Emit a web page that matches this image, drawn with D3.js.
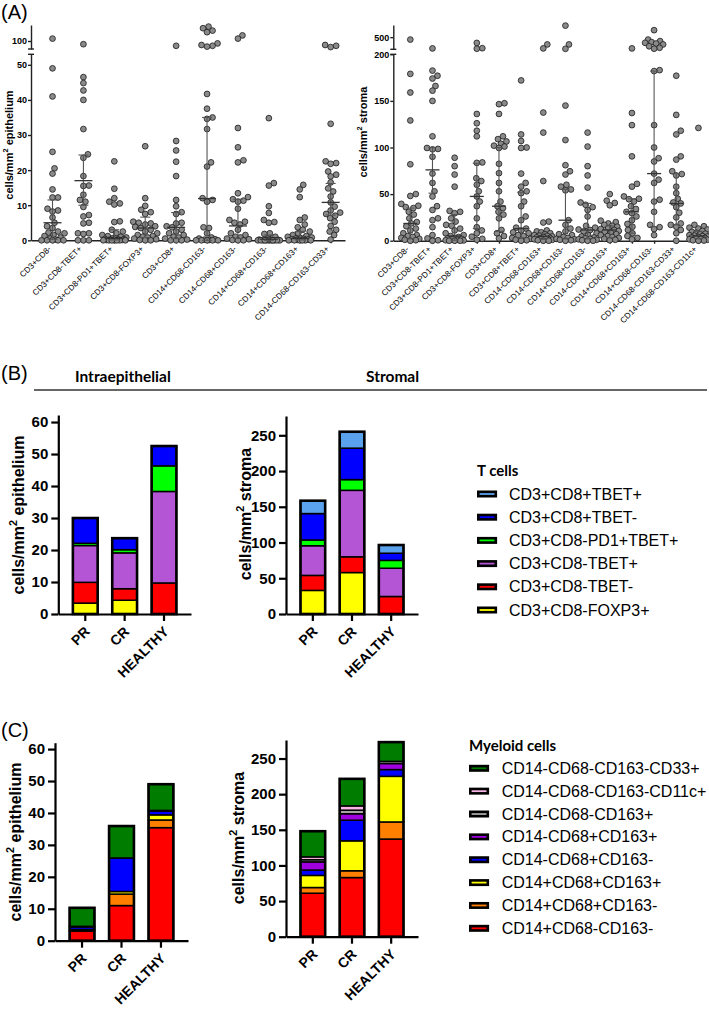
<!DOCTYPE html>
<html>
<head>
<meta charset="utf-8">
<script src="https://cdn.jsdelivr.net/npm/d3@7"></script>
<style>
  body { margin: 0; background: #fff; }
  text { font-family: Arial, "Liberation Sans", sans-serif; fill: #000; }
  .hdr { font-family: Lato, "Open Sans", sans-serif; font-weight: bold; }
</style>
</head>
<body>
<svg id="fig" width="709" height="1012"></svg>
<script>
// ---------- Panel A data ----------
const epiCats = ["CD3+CD8-", "CD3+CD8-TBET+", "CD3+CD8-PD1+TBET+", "CD3+CD8-FOXP3+", "CD3+CD8+",
  "CD14+CD68-CD163-", "CD14-CD68+CD163-", "CD14+CD68+CD163-", "CD14+CD68+CD163+", "CD14-CD68-CD163-CD33+"];
const epiDots = [
  [101.5, 49, 41, 25.2, 20.5, 19, 14.5, 12.2, 12.2, 9, 8.5, 8.2, 6.5, 5, 4, 3.5, 2.5, 2.2, 2, 1.5, 1.2, 0.8, 0.5, 0.2, 0, 0, 0, 0, 0],
  [98, 46.5, 44.8, 42.7, 40, 31.7, 24.5, 23.5, 18.3, 15.6, 15.5, 13, 11.5, 11, 9.5, 7.2, 6.8, 5, 4.8, 2, 2, 1.8, 0, 0, 0],
  [22.5, 14.7, 12, 11, 10.5, 10.2, 5.4, 5.2, 3, 2.5, 2, 1.5, 1.2, 1, 0.8, 0.6, 0.5, 0.4, 0.3, 0.2, 0.2, 0.1, 0.1, 0, 0, 0, 0, 0, 0, 0],
  [26.8, 12, 9.8, 8.7, 8, 7.5, 5.3, 5, 4.8, 4.5, 4, 3.8, 3.5, 3, 2.5, 2, 1.5, 1.2, 1, 0.8, 0.5, 0.3, 0.1, 0, 0],
  [97, 28.3, 25.6, 22.4, 18.3, 11.5, 9.7, 8, 7.5, 5, 4.8, 4, 3.7, 3, 2.5, 2, 1.5, 1, 0.8, 0.5, 0.2, 0, 0, 0],
  [109, 108, 106.5, 105.5, 98.5, 97, 96.5, 97.5, 41.7, 37.5, 35, 34.6, 31.7, 22.2, 21, 12, 11.5, 11, 3.7, 3.5, 2, 0.8, 0.5, 0.3, 0.2, 0.1, 0, 0, 0, 0, 0],
  [103.5, 101.5, 32, 26.5, 22.8, 22.2, 13.4, 12.3, 11.7, 11.3, 11, 9, 5.8, 5.3, 5, 4.5, 3, 2, 1.5, 1, 0.8, 0.5, 0.3, 0.1, 0, 0],
  [34.8, 16.3, 15.6, 9.7, 7.8, 5.8, 5.2, 5, 2, 1.8, 1, 0.5, 0.3, 0.2, 0.1, 0, 0, 0, 0, 0, 0, 0, 0, 0, 0, 0],
  [15.8, 14.5, 12.3, 6.5, 5.8, 4.5, 3.7, 3, 2.5, 2, 1.5, 1.2, 1, 0.8, 0.6, 0.5, 0.4, 0.3, 0.2, 0.1, 0, 0, 0, 0, 0, 0],
  [97.5, 97, 96.2, 33.2, 22.5, 22, 21.8, 19.6, 18.7, 18.2, 16.5, 14.8, 13.9, 12.5, 10.8, 9.6, 8.5, 7.9, 7.5, 7, 6.3, 5.3, 4.1, 3, 2.5, 1.5, 0.2]
];
const epiMedian = [5, 17, 0.5, 3.5, 3.7, 11.9, 4.1, 0.3, 0.5, 10.8];
const epiQ1 = [0.3, 10, 0.1, 0.8, 0.5, 0, 0.5, 0, 0.1, 7.2];
const epiQ3 = [11.5, 24.3, 3, 6.6, 7.9, 35, 11.7, 1.5, 2.5, 16.2];

const stroCats = ["CD3+CD8-", "CD3+CD8-TBET+", "CD3+CD8-PD1+TBET+", "CD3+CD8-FOXP3+", "CD3+CD8+", "CD3+CD8+TBET+",
  "CD14-CD68-CD163+", "CD14-CD68+CD163-", "CD14+CD68+CD163-", "CD14-CD68+CD163+", "CD14+CD68+CD163+",
  "CD14+CD68-CD163-", "CD14-CD68-CD163-CD33+", "CD14-CD68-CD163-CD11c+"];
const stroDots = [
  [460, 179, 159, 129, 82, 50, 48, 39.5, 37.5, 36, 35, 31, 28, 24, 20, 18.5, 15.5, 13, 11, 8, 6, 5, 4, 3, 2, 1, 0.5, 0],
  [315, 182.5, 177, 174, 166, 161, 150, 112, 99.5, 98.5, 98, 90, 72, 62, 53, 47.5, 37, 33, 24, 22, 14.5, 6, 2.5, 0.5, 0],
  [89, 80, 71, 58, 32, 31, 29.5, 24, 20.5, 17, 16, 13, 11, 8, 6, 5, 4, 3, 2.5, 2, 1.5, 1, 0.5, 0.3, 0, 0, 0],
  [405, 318, 310, 136, 126, 118, 112, 84, 83.5, 67, 64, 60, 53, 47.5, 42, 37, 24, 14.5, 11, 8, 4.3, 2, 1],
  [147.5, 146.5, 136, 112, 109, 106.5, 104, 102, 101, 99.5, 82.5, 72.5, 62, 53, 42, 37, 35, 31, 28, 24, 11.5, 8, 5, 2.5],
  [172, 114, 107, 100, 99.5, 72, 62, 58, 53, 51, 42, 37, 26, 22, 14, 13, 11, 9, 8, 6, 5, 3, 2, 1, 0.5, 0],
  [380, 315, 137.5, 116, 64, 20.5, 19.5, 11, 10, 9, 8, 7, 6, 5.5, 5, 4.5, 4, 3.5, 3, 2.5, 2, 1.5, 1, 0.5, 0, 0],
  [690, 380, 308, 145, 108, 81, 74.5, 71, 60, 58, 55, 54, 22, 17, 13, 10, 7, 6, 4, 3, 2, 1.5, 1, 0.5, 0],
  [116, 101, 80, 70, 57, 41, 38.5, 36, 33, 26, 16, 14, 12, 11.5, 10, 8, 6, 4.5, 3.5, 2.5, 2, 1.5, 1, 0.5, 0, 0],
  [50, 43, 40.5, 38, 21.5, 20, 18.5, 17, 16, 15, 13.5, 12.5, 11.5, 10.5, 9.5, 8.5, 7, 6, 5, 4, 3, 2, 1, 0.5],
  [315, 137, 124, 90.5, 61, 58, 47.5, 45, 44.5, 42, 37, 34, 31, 29.5, 26, 22, 18, 15, 11.5, 8, 5, 3, 1.5],
  [615, 460, 435, 418, 407, 395, 380, 350, 325, 310, 183, 182, 124, 100, 88.5, 85, 72, 65.5, 62, 44, 42, 31, 17, 14.5, 12.5, 6],
  [177, 135, 118, 114, 90.5, 87, 74.5, 71.5, 70, 58, 51, 45, 41, 40, 36, 30, 25, 18.5, 17, 15, 11.5, 8, 0],
  [121, 17, 15.5, 14, 13, 12, 10.5, 9.5, 8.5, 7.5, 7, 6, 5.5, 5, 4.5, 4, 3.5, 3, 2.5, 2, 1.5, 1, 0.5, 0.2, 0]
];
const stroMedian = [18.5, 76, 5, 47.5, 37, 13, 4.5, 22, 11.5, 11.5, 31, 72, 40, 5];
const stroQ1 = [2, 51, 0.5, 13, 10, 3, 1.5, 2, 2, 3, 8, 15, 17, 2];
const stroQ3 = [35, 100, 28, 83, 100, 52, 8, 55, 40, 16, 45, 182, 72, 10];

// ---------- Panels B / C data (stack order bottom -> top) ----------
const groups = ["PR", "CR", "HEALTHY"];

const tSeries = ["CD3+CD8-FOXP3+", "CD3+CD8-TBET-", "CD3+CD8-TBET+", "CD3+CD8-PD1+TBET+", "CD3+CD8+TBET-", "CD3+CD8+TBET+"];
const tColors = ["#ffff00", "#ff0000", "#b455d6", "#00ff00", "#0000ff", "#5aa2ee"];
const tEpi = [[3.4, 4.3, 0], [6.5, 3.6, 9.7], [11.5, 11.2, 28.6], [0.7, 1.0, 8.0], [7.9, 3.6, 6.2], [0, 0, 0]];
const tStroma = [[33, 58, 0], [21, 22, 24.5], [41.5, 93, 39.5], [8, 15, 11], [37, 44, 10], [18, 23, 11.5]];

const mSeries = ["CD14+CD68-CD163-", "CD14+CD68+CD163-", "CD14+CD68+CD163+", "CD14-CD68+CD163-",
  "CD14-CD68+CD163+", "CD14-CD68-CD163+", "CD14-CD68-CD163-CD11c+", "CD14-CD68-CD163-CD33+"];
const mColors = ["#ff0000", "#ff8000", "#ffff00", "#0000ff", "#a000e0", "#a6a6a6", "#f7b4e4", "#007d00"];
const mEpi = [[3.0, 11.0, 35.4], [0.3, 3.6, 2.4], [0.2, 0.8, 1.6], [0.8, 10.5, 1.2], [0.2, 0, 0.2], [0, 0, 0], [0, 0, 0], [5.8, 10, 8.2]];
const mStroma = [[61, 83, 137], [8, 9.5, 24], [17, 42, 64], [7.5, 29, 9.5], [11.5, 9, 8.5], [3, 5, 3], [4, 6, 0], [36, 38, 27]];

const svg = d3.select("#fig");

// y label with superscript 2
function yLabel(x, y, word, size) {
  const t = svg.append("text")
    .attr("transform", `translate(${x},${y}) rotate(-90)`)
    .attr("text-anchor", "middle")
    .attr("font-weight", "bold")
    .attr("font-size", size);
  t.append("tspan").attr("dy", "0.35em").text("cells/mm");
  t.append("tspan").attr("dy", -size * 0.4).attr("font-size", size * 0.68).text("2");
  t.append("tspan").attr("dy", size * 0.4).text(" " + word);
}

// slanted category labels
function slantLabels(g, cats, xPos, yTop, size, bold, dx) {
  g.append("g").selectAll("g")
    .data(cats)
    .enter()
    .append("g")
    .attr("transform", d => `translate(${xPos(d) + dx},${yTop}) rotate(-45)`)
    .append("text")
    .attr("text-anchor", "end")
    .attr("dy", "0.35em")
    .attr("font-size", size)
    .attr("font-weight", bold ? "bold" : "normal")
    .attr("fill", "#111")
    .text(d => d);
}

// simple beeswarm offsets (pixels)
function swarm(ys, r, maxW) {
  const placed = [];
  const xs = new Array(ys.length);
  d3.range(ys.length).sort((a, b) => ys[b] - ys[a]).forEach(i => {
    let best = 0, bestD = -1;
    for (let k = 0; k <= maxW * 4; k++) {
      const off = (k % 2 ? 1 : -1) * Math.ceil(k / 2) * 0.5;
      let dmin = Infinity;
      placed.forEach(p => { dmin = Math.min(dmin, Math.hypot(p[0] - off, p[1] - ys[i])); });
      if (dmin >= 2 * r - 0.3) { best = off; break; }
      if (dmin > bestD) { bestD = dmin; best = off; }
    }
    xs[i] = best;
    placed.push([best, ys[i]]);
  });
  return xs;
}

// ---------- scatter panel with broken y axis ----------
function scatterPanel(o) {
  const g = svg.append("g");
  const yLow = d3.scaleLinear().domain(o.lowDom).range([o.yBase, o.lowTop]);
  const yUp = d3.scaleLinear().domain(o.upDom).range(o.upRange);
  const yv = v => v > o.lowDom[1] ? yUp(v) : yLow(v);
  const x = d3.scalePoint().domain(o.cats).range([o.x0, o.x1]).padding(o.pad).align(o.align);

  // axes
  const axL = g.append("g").attr("transform", `translate(${o.x0},0)`)
    .call(d3.axisLeft(yLow).tickValues(o.lowTicks).tickSize(3).tickSizeOuter(0).tickPadding(1));
  const axU = g.append("g").attr("transform", `translate(${o.x0},0)`)
    .call(d3.axisLeft(yUp).tickValues(o.upTicks).tickSize(3).tickSizeOuter(0).tickPadding(1));
  [axL, axU].forEach(a => {
    a.selectAll("path, line").attr("stroke", "#222").attr("stroke-width", 1.4);
    a.selectAll("text").attr("font-size", 9).attr("font-weight", "bold").attr("fill", "#222");
  });
  // break caps
  [o.lowTop, o.upRange[0]].forEach(yy => {
    g.append("line").attr("x1", o.x0 - 3).attr("x2", o.x0 + 3).attr("y1", yy).attr("y2", yy)
      .attr("stroke", "#222").attr("stroke-width", 1.4);
  });

  const axB = g.append("g").attr("transform", `translate(0,${o.yBase})`)
    .call(d3.axisBottom(x).tickSize(3).tickSizeOuter(0).tickFormat(""));
  axB.selectAll("path, line").attr("stroke", "#222").attr("stroke-width", 1.4);
  slantLabels(g, o.cats, x, o.yBase + 7, 8.2, false, -3);

  // dots
  o.dots.forEach((vals, i) => {
    const ys = vals.map(yv);
    const xs = swarm(ys, 2.9, o.maxW);
    g.append("g").selectAll("circle")
      .data(vals)
      .enter()
      .append("circle")
      .attr("cx", (d, j) => x(o.cats[i]) + xs[j])
      .attr("cy", (d, j) => ys[j])
      .attr("r", 2.9)
      .attr("fill", "#8a8a8a")
      .attr("stroke", "#1a1a1a")
      .attr("stroke-width", 0.8);
  });

  // median + IQR
  o.cats.forEach((c, i) => {
    const cx = x(c);
    const eg = g.append("g").attr("stroke", "#555").attr("stroke-width", 1.1);
    eg.append("line").attr("x1", cx).attr("x2", cx).attr("y1", yv(o.q1[i])).attr("y2", yv(o.q3[i]));
    [o.q1[i], o.q3[i]].forEach(q => {
      eg.append("line").attr("x1", cx - o.capW).attr("x2", cx + o.capW).attr("y1", yv(q)).attr("y2", yv(q));
    });
    eg.append("line").attr("x1", cx - o.medW).attr("x2", cx + o.medW)
      .attr("y1", yv(o.med[i])).attr("y2", yv(o.med[i])).attr("stroke", "#333").attr("stroke-width", 1.3);
  });

  yLabel(o.labelX, o.labelY, o.word, 11);
}

scatterPanel({
  cats: epiCats, dots: epiDots, med: epiMedian, q1: epiQ1, q3: epiQ3,
  x0: 31, x1: 345, pad: 0.58, align: 0.6, yBase: 240.3,
  lowDom: [0, 53], lowTop: 54.3, upDom: [95, 110], upRange: [49, 25],
  lowTicks: [0, 10, 20, 30, 40, 50], upTicks: [100],
  maxW: 12, capW: 5, medW: 9, labelX: 9, labelY: 145, word: "epithelium"
});
scatterPanel({
  cats: stroCats, dots: stroDots, med: stroMedian, q1: stroQ1, q3: stroQ3,
  x0: 393.3, x1: 708, pad: 0.6, align: 0.64, yBase: 240.7,
  lowDom: [0, 200], lowTop: 54.3, upDom: [300, 700], upRange: [49.3, 25],
  lowTicks: [0, 50, 100, 150, 200], upTicks: [500],
  maxW: 9, capW: 4, medW: 7, labelX: 363, labelY: 132, word: "stroma"
});

// ---------- stacked bar panels ----------
function stackPanel(o) {
  const g = svg.append("g");
  const rows = groups.map((grp, gi) => {
    const r = { group: grp };
    o.series.forEach((s, si) => { r[s] = o.values[si][gi]; });
    return r;
  });
  const stacked = d3.stack().keys(o.series)(rows);
  const x = d3.scaleBand().domain(groups).range([o.x0, o.x1])
    .paddingInner(0.37).paddingOuter(0.37).align(0.5);
  const y = d3.scaleLinear().domain([0, o.max]).range([o.yBase, o.yTop]);
  const color = d3.scaleOrdinal().domain(o.series).range(o.colors);

  stacked.forEach(layer => {
    g.append("g").selectAll("rect")
      .data(layer.filter(d => d[1] - d[0] > 0))
      .enter()
      .append("rect")
      .attr("x", d => x(d.data.group))
      .attr("y", d => y(d[1]))
      .attr("width", x.bandwidth())
      .attr("height", d => y(d[0]) - y(d[1]))
      .attr("fill", color(layer.key))
      .attr("stroke", "#000")
      .attr("stroke-width", 1.5);
  });
  // outline of each bar
  g.append("g").selectAll("rect")
    .data(rows)
    .enter()
    .append("rect")
    .attr("x", d => x(d.group))
    .attr("y", d => y(d3.sum(o.series, s => d[s])))
    .attr("width", x.bandwidth())
    .attr("height", d => o.yBase - y(d3.sum(o.series, s => d[s])))
    .attr("fill", "none")
    .attr("stroke", "#000")
    .attr("stroke-width", 2.6);

  const axL = g.append("g").attr("transform", `translate(${o.x0},0)`)
    .call(d3.axisLeft(y).tickValues(o.ticks).tickSize(7).tickSizeOuter(0).tickPadding(3));
  const axB = g.append("g").attr("transform", `translate(0,${o.yBase})`)
    .call(d3.axisBottom(x).tickSize(7).tickSizeOuter(0).tickFormat(""));
  [axL, axB].forEach(a => {
    a.selectAll("path, line").attr("stroke", "#000").attr("stroke-width", 2.2);
    a.selectAll("text").attr("font-size", 15).attr("font-weight", "bold");
  });
  const xc = d => x(d) + x.bandwidth() / 2;
  slantLabels(g, groups, xc, o.yBase + 15, 14, true, 2);

  yLabel(o.labelX, o.labelY, o.word, 16);
}

stackPanel({ series: tSeries, colors: tColors, values: tEpi, x0: 58.3, x1: 191, yBase: 614, yTop: 415,
  max: 62.2, ticks: d3.range(0, 61, 10), labelX: 18, labelY: 515, word: "epithelium" });
stackPanel({ series: tSeries, colors: tColors, values: tStroma, x0: 286, x1: 418, yBase: 614, yTop: 416,
  max: 277, ticks: d3.range(0, 251, 50), labelX: 245, labelY: 514, word: "stroma" });
stackPanel({ series: mSeries, colors: mColors, values: mEpi, x0: 55, x1: 188, yBase: 940.7, yTop: 742.7,
  max: 62, ticks: d3.range(0, 61, 10), labelX: 15, labelY: 842, word: "epithelium" });
stackPanel({ series: mSeries, colors: mColors, values: mStroma, x0: 286, x1: 418, yBase: 936.7, yTop: 740,
  max: 276, ticks: d3.range(0, 251, 50), labelX: 238, labelY: 838, word: "stroma" });

// ---------- legends ----------
function legend(title, names, colors, x, yTitle, y0, step, textX) {
  svg.append("text").attr("class", "hdr").attr("x", x).attr("y", yTitle).attr("font-size", 15).text(title);
  const items = svg.append("g").selectAll("g")
    .data(names.slice().reverse())
    .enter()
    .append("g")
    .attr("transform", (d, i) => `translate(0,${y0 + i * step})`);
  items.append("rect")
    .attr("x", x + 1.3).attr("y", -2.2)
    .attr("width", 17.5).attr("height", 4.4)
    .attr("fill", (d, i) => colors[names.length - 1 - i])
    .attr("stroke", "#000").attr("stroke-width", 2.6);
  items.append("text")
    .attr("x", textX).attr("y", 0).attr("dy", "0.35em")
    .attr("font-size", 16)
    .text(d => d);
}
legend("T cells", tSeries, tColors, 477, 476, 494, 23.2, 509);
legend("Myeloid cells", mSeries, mColors, 469, 751, 768.3, 22.86, 501.7);

// ---------- panel letters and headers ----------
[["(A)", 19], ["(B)", 380], ["(C)", 737]].forEach(([t, yy]) => {
  svg.append("text").attr("x", 1).attr("y", yy).attr("font-size", 20).text(t);
});
svg.append("text").attr("class", "hdr").attr("x", 75).attr("y", 382).attr("font-size", 15.5).text("Intraepithelial");
svg.append("text").attr("class", "hdr").attr("x", 366).attr("y", 382).attr("font-size", 15.5).text("Stromal");
svg.append("line").attr("x1", 34).attr("x2", 707).attr("y1", 390).attr("y2", 390)
  .attr("stroke", "#333").attr("stroke-width", 1.4);
</script>
</body>
</html>
